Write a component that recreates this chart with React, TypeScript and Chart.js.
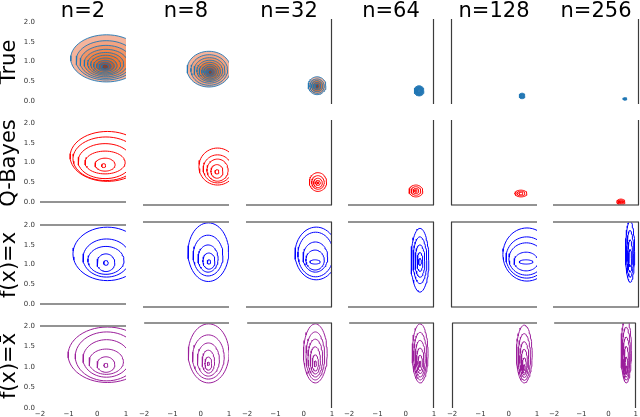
import React, { useEffect, useRef } from "react";
import { Chart, registerables } from "chart.js";
Chart.register(...registerables);

type Ellipse = [number, number, number, number]; // cx, cy, rx, ry (data units)

// ---- text ----
const columnTitles = ["n=2", "n=8", "n=32", "n=64", "n=128", "n=256"];
const rowTitles = ["True", "Q-Bayes", "f(x)=x", "f(x)=x\u0304"];
const yTickValues = [0, 0.5, 1, 1.5, 2];
const yTickLabels = ["0.0", "0.5", "1.0", "1.5", "2.0"];
const xTickValues = [-2, -1, 0, 1];
const xTickLabels = ["\u22122", "\u22121", "0", "1"];

// ---- row 1: True (filled density contours) ----
const trueN2: Ellipse[] = [
  [0.32, 1.08, 1.25, 0.6], [0.31, 1.03, 1.05, 0.5], [0.3, 0.99, 0.9, 0.42], [0.3, 0.96, 0.76, 0.35],
  [0.29, 0.94, 0.63, 0.29], [0.29, 0.92, 0.52, 0.24], [0.28, 0.9, 0.41, 0.19], [0.28, 0.89, 0.31, 0.14],
  [0.27, 0.88, 0.21, 0.1], [0.27, 0.87, 0.12, 0.06],
];
const trueN8: Ellipse[] = [
  [0.3, 0.82, 0.76, 0.42], [0.31, 0.8, 0.64, 0.36], [0.32, 0.79, 0.54, 0.3], [0.33, 0.78, 0.45, 0.25],
  [0.33, 0.77, 0.37, 0.21], [0.34, 0.76, 0.29, 0.17], [0.34, 0.76, 0.22, 0.13], [0.34, 0.75, 0.15, 0.09],
  [0.34, 0.75, 0.08, 0.05],
];
const trueN32: Ellipse[] = [
  [0.48, 0.43, 0.31, 0.21], [0.48, 0.42, 0.25, 0.17], [0.48, 0.42, 0.19, 0.13], [0.48, 0.42, 0.13, 0.09], [0.48, 0.42, 0.07, 0.05],
];
const trueN64: Ellipse[] = [[0.48, 0.31, 0.17, 0.12], [0.48, 0.31, 0.12, 0.085], [0.48, 0.31, 0.07, 0.05]];
const trueN128: Ellipse[] = [[0.48, 0.19, 0.1, 0.065], [0.48, 0.19, 0.06, 0.04]];
const trueN256: Ellipse[] = [[0.51, 0.12, 0.07, 0.03], [0.51, 0.12, 0.035, 0.015]];

// ---- row 2: Q-Bayes ----
const qbN2: Ellipse[] = [
  [0.35, 1.155, 1.3, 0.635], [0.3, 1.095, 1.15, 0.555], [0.27, 1.035, 0.94, 0.445], [0.27, 1.0, 0.7, 0.29],
  [0.27, 0.945, 0.35, 0.165], [0.22, 0.92, 0.07, 0.05],
];
const qbN8: Ellipse[] = [
  [0.6, 0.905, 0.65, 0.435], [0.6, 0.85, 0.5, 0.33], [0.6, 0.82, 0.37, 0.26], [0.58, 0.79, 0.21, 0.16], [0.58, 0.78, 0.07, 0.05],
];
const qbN32: Ellipse[] = [
  [0.51, 0.54, 0.3, 0.22], [0.51, 0.53, 0.22, 0.16], [0.51, 0.52, 0.15, 0.11], [0.51, 0.52, 0.08, 0.06], [0.51, 0.52, 0.03, 0.025],
];
const qbN64: Ellipse[] = [[0.37, 0.33, 0.24, 0.14], [0.37, 0.33, 0.17, 0.1], [0.37, 0.33, 0.1, 0.06], [0.37, 0.33, 0.04, 0.03]];
const qbN128: Ellipse[] = [[0.44, 0.27, 0.21, 0.08], [0.44, 0.27, 0.14, 0.055], [0.44, 0.27, 0.07, 0.03]];
const qbN256: Ellipse[] = [[0.37, 0.07, 0.14, 0.07], [0.37, 0.07, 0.1, 0.05], [0.37, 0.07, 0.06, 0.03], [0.37, 0.07, 0.03, 0.015]];

// ---- row 3: f(x)=x ----
const fxN2: Ellipse[] = [
  [0.35, 1.27, 1.2, 0.68], [0.32, 1.165, 0.82, 0.485], [0.3, 1.105, 0.63, 0.355], [0.3, 1.045, 0.31, 0.225], [0.3, 1.04, 0.08, 0.06],
];
const fxN8: Ellipse[] = [
  [0.28, 1.29, 0.71, 0.69], [0.27, 1.21, 0.52, 0.48], [0.27, 1.14, 0.35, 0.32], [0.3, 1.08, 0.21, 0.19], [0.3, 1.06, 0.06, 0.05],
];
const fxN32: Ellipse[] = [
  [0.45, 1.26, 0.74, 0.62], [0.43, 1.235, 0.62, 0.525], [0.42, 1.175, 0.43, 0.355], [0.41, 1.105, 0.32, 0.235], [0.41, 1.06, 0.18, 0.05],
];
const fxN64: Ellipse[] = [
  [0.51, 1.1, 0.31, 0.75], [0.51, 1.1, 0.24, 0.55], [0.51, 1.08, 0.17, 0.38], [0.51, 1.06, 0.1, 0.22], [0.51, 1.06, 0.05, 0.08],
];
const fxN128: Ellipse[] = [
  [0.65, 1.235, 0.84, 0.625], [0.64, 1.165, 0.72, 0.485], [0.63, 1.13, 0.61, 0.38], [0.62, 1.07, 0.42, 0.22], [0.62, 1.06, 0.24, 0.05],
];
const fxN256: Ellipse[] = [[0.69, 1.3, 0.16, 0.72], [0.69, 1.25, 0.12, 0.55], [0.69, 1.2, 0.08, 0.38], [0.69, 1.15, 0.05, 0.2]];

// ---- row 4: f(x)=x-bar ----
const fxbN2: Ellipse[] = [
  [0.35, 1.3, 1.37, 0.68], [0.33, 1.26, 1.1, 0.6], [0.32, 1.21, 0.82, 0.46], [0.31, 1.13, 0.6, 0.31], [0.3, 1.06, 0.31, 0.19], [0.3, 1.04, 0.07, 0.05],
];
const fxbN8: Ellipse[] = [
  [0.28, 1.285, 0.72, 0.695], [0.27, 1.2, 0.56, 0.52], [0.27, 1.14, 0.39, 0.39], [0.27, 1.09, 0.22, 0.27], [0.27, 1.045, 0.12, 0.155], [0.27, 1.04, 0.04, 0.04],
];
const fxbN32: Ellipse[] = [
  [0.41, 1.285, 0.42, 0.695], [0.41, 1.225, 0.33, 0.565], [0.41, 1.175, 0.26, 0.445], [0.41, 1.12, 0.18, 0.32], [0.41, 1.06, 0.11, 0.19], [0.41, 1.04, 0.04, 0.07],
];
const fxbN64: Ellipse[] = [
  [0.51, 1.285, 0.28, 0.695], [0.51, 1.22, 0.23, 0.56], [0.51, 1.16, 0.18, 0.43], [0.51, 1.11, 0.13, 0.3], [0.51, 1.06, 0.08, 0.18], [0.51, 1.03, 0.03, 0.07],
];
const fxbN128: Ellipse[] = [
  [0.55, 1.27, 0.28, 0.68], [0.55, 1.2, 0.22, 0.55], [0.55, 1.14, 0.16, 0.42], [0.55, 1.08, 0.11, 0.3], [0.55, 1.0, 0.07, 0.18], [0.55, 0.95, 0.03, 0.07],
];
const fxbN256: Ellipse[] = [
  [0.65, 1.35, 0.19, 0.76], [0.65, 1.28, 0.15, 0.62], [0.65, 1.2, 0.12, 0.47], [0.65, 1.12, 0.08, 0.33], [0.65, 1.0, 0.05, 0.2], [0.65, 0.9, 0.03, 0.09],
];

const panels: Ellipse[][][] = [
  [trueN2, trueN8, trueN32, trueN64, trueN128, trueN256],
  [qbN2, qbN8, qbN32, qbN64, qbN128, qbN256],
  [fxN2, fxN8, fxN32, fxN64, fxN128, fxN256],
  [fxbN2, fxbN8, fxbN32, fxbN64, fxbN128, fxbN256],
];

// ---- styles / layout ----
const rowLineColors = ["#1f77b4", "#ff0000", "#0000ff", "#9b1f9b"];
const trueFillPalette = ["#f5b49c", "#f3a381", "#f19466", "#f0874f", "#ef7d3c", "#ee7530", "#e06d2a", "#c46030", "#a0523a", "#7e4538"];
const COL_LEFT = [40, 143, 246, 348, 451, 553];
const ROW_TOP = [19, 120, 222, 323];
const PW = 86;
const PH = 85;
const PAD = 6;
const FIG_W = 640;
const FIG_H = 417;
const rowTopLine = [false, false, true, true];
const rowBottomLine = [false, true, true, false];
const colLeftLine = [false, false, false, false, true, false];
const colRightLine = [false, false, true, true, false, true];

function ellipsePoints(e: Ellipse, steps = 56) {
  const [cx, cy, rx, ry] = e;
  const pts: { x: number; y: number }[] = [];
  for (let k = 0; k <= steps; k++) {
    const t = (k / steps) * Math.PI * 2;
    pts.push({ x: cx + rx * Math.cos(t), y: cy + ry * Math.sin(t) });
  }
  return pts;
}

const framePlugin = {
  id: "frameLines",
  afterDraw(chart: any, _args: any, opts: any) {
    const { ctx, chartArea: a } = chart;
    ctx.save();
    const hLine = (y: number) => {
      ctx.strokeStyle = "#6f6f6f";
      ctx.lineWidth = 1.5;
      ctx.beginPath();
      ctx.moveTo(a.left, y);
      ctx.lineTo(a.right, y);
      ctx.stroke();
    };
    const vLine = (x: number) => {
      ctx.strokeStyle = "#3c3c3c";
      ctx.lineWidth = 1.2;
      ctx.beginPath();
      ctx.moveTo(x, a.top);
      ctx.lineTo(x, a.bottom);
      ctx.stroke();
    };
    if (opts.top) hLine(Math.round(a.top));
    if (opts.bottom) hLine(Math.round(a.bottom));
    if (opts.left) vLine(Math.round(a.left) + 0.5);
    if (opts.right) vLine(Math.round(a.right) - 0.5);
    ctx.restore();
  },
};

function Panel({ r, c }: { r: number; c: number }) {
  const ref = useRef<HTMLCanvasElement | null>(null);
  const L = COL_LEFT[c];
  const T = ROW_TOP[r];
  const cl = c === 0 ? 0 : L - PAD;
  const ct = T - PAD;
  const cr = Math.min(L + PW + PAD, FIG_W);
  const cb = r === 3 ? FIG_H : T + PH + PAD;
  const w = cr - cl;
  const h = cb - ct;
  const showX = r === 3;
  const showY = c === 0;

  useEffect(() => {
    if (!ref.current) return;
    const ellipses = panels[r][c];
    const n = ellipses.length;
    const datasets = ellipses.map((e, i) => {
      const palIdx = n > 1 ? Math.round((i * (trueFillPalette.length - 1)) / (n - 1)) : 0;
      const smallBlue = r === 0 && c >= 3;
      return {
        data: ellipsePoints(e),
        showLine: true,
        pointRadius: 0,
        borderColor: rowLineColors[r],
        borderWidth: r === 0 ? 0.9 : 1,
        backgroundColor: r === 0 ? (smallBlue ? "#2f7bb6" : trueFillPalette[palIdx]) : "transparent",
        fill: r === 0 ? "shape" : false,
        tension: 0,
        clip: 0,
        order: n - i,
      };
    });
    const chart = new Chart(ref.current, {
      type: "scatter",
      data: { datasets: datasets as any },
      plugins: [framePlugin as any],
      options: {
        animation: false,
        responsive: false,
        devicePixelRatio: 1,
        events: [],
        layout: {
          autoPadding: false,
          padding: {
            left: c === 0 ? 0 : PAD,
            right: cr - (L + PW),
            top: PAD,
            bottom: r === 3 ? 0 : PAD,
          },
        } as any,
        plugins: {
          legend: { display: false },
          tooltip: { enabled: false },
          title: { display: false },
          frameLines: {
            top: rowTopLine[r],
            bottom: rowBottomLine[r],
            left: colLeftLine[c],
            right: colRightLine[c],
          },
        } as any,
        scales: {
          x: {
            type: "linear",
            min: -2,
            max: 1,
            display: showX,
            grid: { display: false, drawTicks: false },
            border: { display: false },
            afterBuildTicks: (s: any) => {
              s.ticks = xTickValues.map((v) => ({ value: v }));
            },
            afterFit: (s: any) => {
              s.height = showX ? FIG_H - (T + PH) : 0;
            },
            ticks: {
              autoSkip: false,
              maxRotation: 0,
              padding: 2,
              color: "#333",
              font: { family: "DejaVu Sans", size: 7 },
              callback: (v: any) => xTickLabels[xTickValues.indexOf(Number(v))],
            },
          },
          y: {
            type: "linear",
            min: 0,
            max: 2,
            display: showY,
            grid: { display: false, drawTicks: false },
            border: { display: false },
            afterBuildTicks: (s: any) => {
              s.ticks = yTickValues.map((v) => ({ value: v }));
            },
            afterFit: (s: any) => {
              s.width = showY ? L : 0;
            },
            ticks: {
              autoSkip: false,
              padding: 5,
              color: "#333",
              font: { family: "DejaVu Sans", size: 7 },
              callback: (v: any) => yTickLabels[yTickValues.indexOf(Number(v))],
            },
          },
        },
      } as any,
    });
    return () => chart.destroy();
  }, [r, c]);

  return (
    <canvas
      ref={ref}
      width={w}
      height={h}
      style={{ position: "absolute", left: cl, top: ct, width: w, height: h }}
    />
  );
}

export default function App() {
  const cells: React.ReactNode[] = [];
  for (let r = 0; r < 4; r++) for (let c = 0; c < 6; c++) cells.push(<Panel key={`${r}-${c}`} r={r} c={c} />);
  return (
    <div
      style={{
        position: "absolute",
        left: 0,
        top: 0,
        width: FIG_W,
        height: FIG_H,
        background: "#fff",
        overflow: "hidden",
        fontFamily: '"DejaVu Sans", sans-serif',
      }}
    >
      {cells}
      {columnTitles.map((t, c) => (
        <div
          key={t}
          style={{
            position: "absolute",
            left: COL_LEFT[c] + PW / 2,
            top: 0,
            transform: "translateX(-50%)",
            fontSize: 21,
            lineHeight: "21px",
            whiteSpace: "nowrap",
            color: "#000",
          }}
        >
          {t}
        </div>
      ))}
      {rowTitles.map((t, r) => (
        <div
          key={t}
          style={{
            position: "absolute",
            left: 8,
            top: ROW_TOP[r] + PH / 2,
            transform: "translate(-50%, -50%) rotate(-90deg)",
            fontSize: 21,
            lineHeight: "21px",
            whiteSpace: "nowrap",
            color: "#000",
          }}
        >
          {t}
        </div>
      ))}
    </div>
  );
}
